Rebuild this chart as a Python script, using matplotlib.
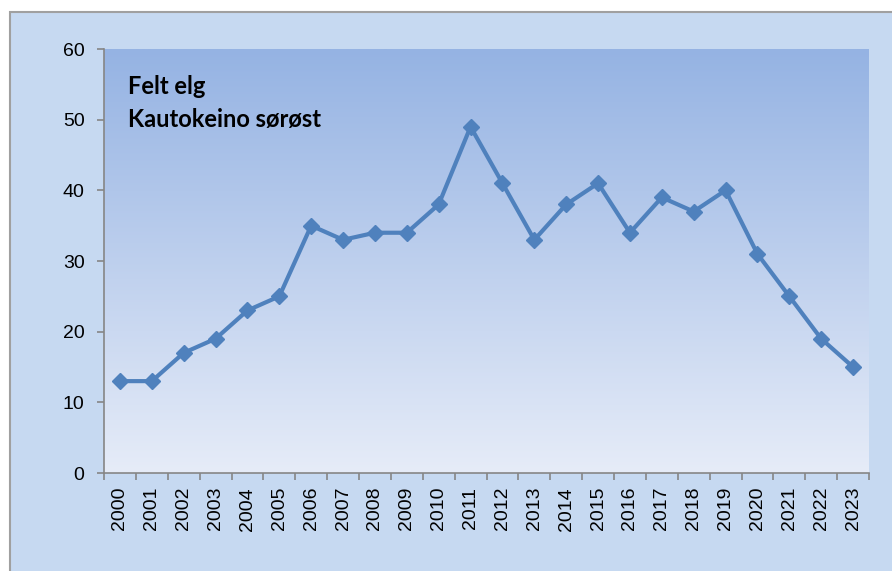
import numpy as np
import matplotlib.pyplot as plt
from matplotlib.patches import Rectangle
from matplotlib.colors import LinearSegmentedColormap

# Felt elg, Kautokeino sørøst
years = [str(y) for y in range(2000, 2024)]
felt = [13, 13, 17, 19, 23, 25, 35, 33, 34, 34, 38, 49,
        41, 33, 38, 41, 34, 39, 37, 40, 31, 25, 19, 15]
yticks = [0, 10, 20, 30, 40, 50, 60]

fig = plt.figure(figsize=(8.92, 5.71), dpi=100)
fig.patch.set_facecolor('white')

# chart area background with grey border
bg = Rectangle((10 / 892, -0.05), 1.0, 1 - 12 / 571 + 0.05,
               transform=fig.transFigure, facecolor='#c6d9f1',
               edgecolor='#a0a0a0', linewidth=1.5, zorder=-10)
fig.patches.append(bg)

ax = fig.add_axes([104 / 892, 1 - 473 / 571, 765 / 892, 424 / 571])
ax.set_facecolor('none')
ax.set_zorder(1)

# vertical gradient in the plot area
cmap = LinearSegmentedColormap.from_list('grad', ['#e6ecf8', '#95b3e3'])
grad = np.linspace(0, 1, 256).reshape(-1, 1)
ax.imshow(grad, cmap=cmap, aspect='auto', origin='lower',
          extent=[0, 1, 0, 1], transform=ax.transAxes, zorder=0)

x = np.arange(len(years))
ax.plot(x, felt, color='#4f81bd', linewidth=3, marker='D',
        markersize=8.5, zorder=3)

ax.set_xlim(-0.5, len(years) - 0.5)
ax.set_ylim(0, 60)
ax.set_yticks(yticks)
ax.set_yticklabels([str(v) for v in yticks], fontsize=14,
                   family='Liberation Sans')

# category labels centred, ticks on category boundaries
ax.set_xticks(x)
ax.set_xticklabels(years, rotation=90, fontsize=14, family='Liberation Sans')
ax.tick_params(axis='x', which='major', length=0, pad=10)
ax.set_xticks(np.arange(-0.5, len(years), 1), minor=True)
ax.tick_params(axis='x', which='minor', length=5, width=1.2,
               color='#868686', direction='out')
ax.tick_params(axis='y', length=5, width=1.2, color='#868686',
               direction='out', pad=9)

for s in ['top', 'right']:
    ax.spines[s].set_visible(False)
for s in ['left', 'bottom']:
    ax.spines[s].set_color('#868686')
    ax.spines[s].set_linewidth(1.2)

ax.text(0.031, 0.894, 'Felt elg', transform=ax.transAxes, fontsize=17,
        fontweight='bold', family='Lato', va='baseline')
ax.text(0.031, 0.816, 'Kautokeino sørøst', transform=ax.transAxes,
        fontsize=17, fontweight='bold', family='Lato', va='baseline')

fig.savefig('out.png', dpi=100)
